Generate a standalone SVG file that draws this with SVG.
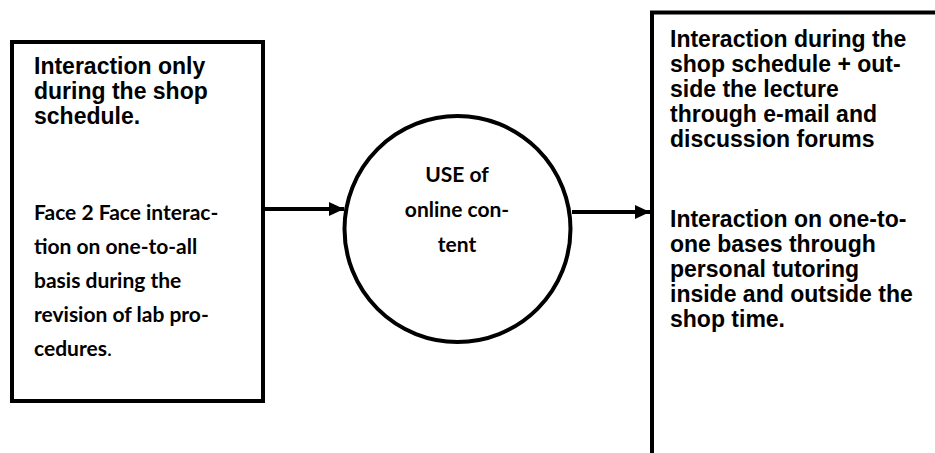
<svg xmlns="http://www.w3.org/2000/svg" width="935" height="453" viewBox="0 0 935 453">
<style>
.box{fill:#fff;stroke:#000;stroke-width:4}
.conn{fill:none;stroke:#000;stroke-width:4}
.ar{font-family:"Liberation Sans",Arial,sans-serif;font-weight:bold;font-size:23px;fill:#000}
.cb{font-family:Lato,"Open Sans",sans-serif;font-weight:bold;font-size:21px;fill:#000}
</style>
<defs>
<marker id="arrow" markerUnits="userSpaceOnUse" markerWidth="16" markerHeight="14" refX="15" refY="7" orient="auto">
<path d="M0,0 L15,7 L0,14 Z" fill="#000"/>
</marker>
</defs>
<rect width="935" height="453" fill="#fff"/>
<g id="left-box">
<rect class="box" x="12" y="42" width="251" height="359"/>
<text class="ar"><tspan x="34" y="74">Interaction only</tspan><tspan x="34" y="99">during the shop</tspan><tspan x="34" y="124">schedule.</tspan></text>
<text class="cb"><tspan x="34" y="220">Face 2 Face interac-</tspan><tspan x="34" y="254">tion on one-to-all</tspan><tspan x="34" y="288">basis during the</tspan><tspan x="34" y="322">revision of lab pro-</tspan><tspan x="34" y="356">cedures<tspan font-weight="normal">.</tspan></tspan></text>
</g>
<g id="center-circle">
<circle class="box" cx="457.5" cy="229" r="113"/>
<text class="cb" text-anchor="middle"><tspan x="457" y="182">USE of</tspan><tspan x="457" y="217">online con-</tspan><tspan x="457" y="252">tent</tspan></text>
</g>
<g id="right-box">
<rect class="box" x="652" y="12.5" width="300" height="460"/>
<text class="ar"><tspan x="670" y="47">Interaction during the</tspan><tspan x="670" y="72">shop schedule + out-</tspan><tspan x="670" y="97">side the lecture</tspan><tspan x="670" y="122">through e-mail and</tspan><tspan x="670" y="147">discussion forums</tspan></text>
<text class="ar"><tspan x="670" y="227">Interaction on one-to-</tspan><tspan x="670" y="252">one bases through</tspan><tspan x="670" y="277">personal tutoring</tspan><tspan x="670" y="302">inside and outside the</tspan><tspan x="670" y="327">shop time.</tspan></text>
</g>
<g id="connectors">
<line class="conn" x1="265" y1="209" x2="344" y2="209" marker-end="url(#arrow)"/>
<line class="conn" x1="572" y1="212" x2="650" y2="212" marker-end="url(#arrow)"/>
</g>
</svg>
